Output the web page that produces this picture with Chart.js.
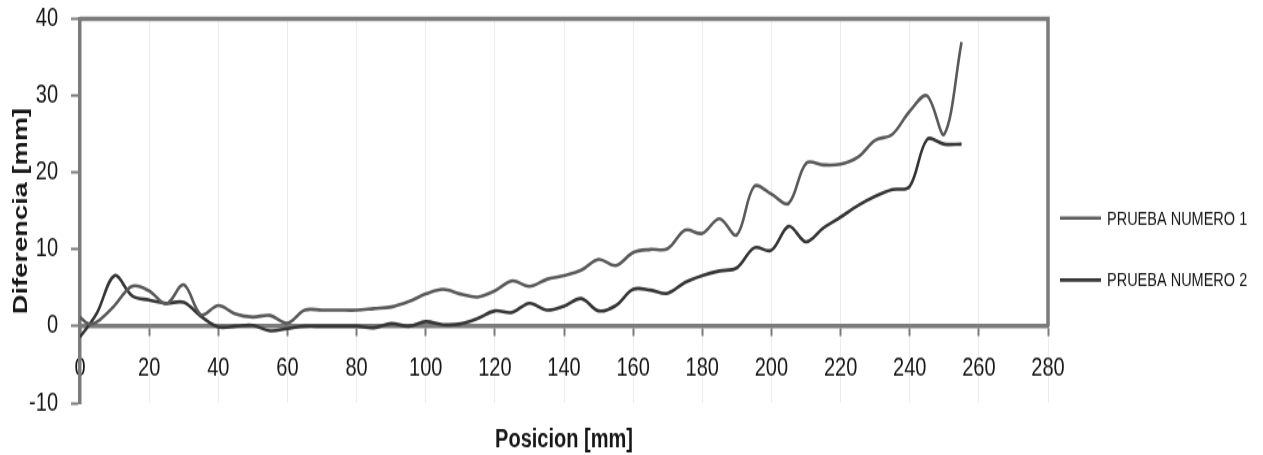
<!DOCTYPE html>
<html><head><meta charset="utf-8">
<style>html,body{margin:0;padding:0;background:#fff;width:1263px;height:455px}#c{display:block;width:1263px;height:455px}</style>
<script src="https://cdn.jsdelivr.net/npm/chart.js@4.4.1/dist/chart.umd.min.js"></script>
</head><body><canvas id="c" width="1263" height="350" style="width:1263px;height:455px"></canvas>
<script>
// Position along the piece [mm]
const positions = [0, 2.5, 5, 10, 15, 20, 25, 30, 35, 40, 45, 50, 55, 60, 65, 70, 75, 80, 85, 90, 95, 100,
  105, 110, 115, 120, 125, 130, 135, 140, 145, 150, 155, 160, 165, 170, 175, 180, 185, 190, 195, 200,
  205, 210, 215, 220, 225, 230, 235, 240, 245, 250, 255];
// Difference [mm] - test 1
const prueba1 = [1.2, 0.3, 0.6, 2.7, 5.2, 4.6, 2.9, 5.4, 1.5, 2.7, 1.6, 1.2, 1.4, 0.4, 2.1, 2.1, 2.1, 2.1, 2.3, 2.5, 3.2, 4.2,
  4.8, 4.2, 3.8, 4.6, 5.9, 5.2, 6.1, 6.6, 7.3, 8.7, 7.9, 9.6, 10.0, 10.1, 12.5, 12.1, 14.0, 11.9, 18.2, 17.2,
  16.0, 21.2, 21.0, 21.1, 22.0, 24.2, 25.0, 28.0, 30.0, 25.0, 37.0];
// Difference [mm] - test 2
const prueba2 = [-1.4, 0.1, 1.8, 6.6, 4.0, 3.4, 3.0, 3.1, 1.3, -0.1, 0.0, 0.1, -0.6, -0.3, 0.0, 0.0, 0.0, 0.0, -0.2, 0.35, 0.0, 0.6,
  0.2, 0.3, 1.0, 2.0, 1.8, 3.0, 2.1, 2.6, 3.6, 2.0, 2.7, 4.8, 4.7, 4.3, 5.7, 6.6, 7.2, 7.6, 10.2, 9.9,
  13.0, 11.0, 12.8, 14.2, 15.7, 16.9, 17.8, 18.2, 24.3, 23.7, 23.7];
const seriesNames = ['PRUEBA NUMERO 1', 'PRUEBA NUMERO 2'];
const xAxisTitle = 'Posicion [mm]';
const yAxisTitle = 'Diferencia [mm]';
const xRange = [0, 280], xStep = 20;
const yRange = [-10, 40], yStep = 10;

const AXIS = '#7b7b7b';
const TXT = '#161616';
const SANS = '"Liberation Sans", Arial, sans-serif';
const colors = ['#5a5a5a', '#363636'];

const toPts = (vals) => vals.map((v, i) => ({ x: positions[i], y: v }));

const framePlugin = {
  id: 'frame',
  beforeDatasetsDraw(chart) {
    const { ctx, chartArea, scales } = chart;
    const y0 = scales.y.getPixelForValue(0);
    ctx.save();
    ctx.strokeStyle = AXIS;
    ctx.lineWidth = 3.5;
    ctx.beginPath();
    ctx.moveTo(chartArea.left, chartArea.top);
    ctx.lineTo(chartArea.right, chartArea.top);
    ctx.lineTo(chartArea.right, y0);
    ctx.stroke();
    ctx.restore();
  },
  afterDraw(chart) {
    const { ctx } = chart;
    ctx.save();
    ctx.font = '14.5px ' + SANS;
    ctx.textBaseline = 'middle';
    ctx.fillStyle = TXT;
    const ys = [167.7, 215.4];
    chart.data.datasets.forEach((ds, i) => {
      ctx.strokeStyle = ds.borderColor;
      ctx.lineWidth = 2.6;
      ctx.beginPath();
      ctx.moveTo(1060, ys[i]);
      ctx.lineTo(1101, ys[i]);
      ctx.stroke();
      ctx.fillText(ds.label, 1107, ys[i] + 1);
    });
    ctx.restore();
  }
};

new Chart(document.getElementById('c'), {
  type: 'line',
  data: {
    datasets: [
      { label: seriesNames[0], data: toPts(prueba1), borderColor: colors[0], borderWidth: 2.6, pointRadius: 0, tension: 0.35, fill: false },
      { label: seriesNames[1], data: toPts(prueba2), borderColor: colors[1], borderWidth: 2.6, pointRadius: 0, tension: 0.35, fill: false }
    ]
  },
  options: {
    responsive: false,
    animation: false,
    devicePixelRatio: 1,
    layout: { padding: { left: 0, right: 215, top: 14.6, bottom: 0 } },
    plugins: { legend: { display: false }, tooltip: { enabled: false } },
    scales: {
      x: {
        type: 'linear',
        position: { y: 0 },
        min: xRange[0], max: xRange[1],
        ticks: { stepSize: xStep, color: TXT, font: { family: SANS, size: 20 }, padding: 15, maxRotation: 0 },
        grid: { color: 'rgba(0,0,0,0.07)', lineWidth: 1, drawTicks: true, tickLength: 6, tickColor: AXIS, tickWidth: 2 },
        border: { display: true, color: AXIS, width: 3.5 }
      },
      x2: {
        type: 'linear',
        position: 'bottom',
        min: xRange[0], max: xRange[1],
        ticks: { display: false },
        grid: { display: false },
        border: { display: false },
        title: { display: true, text: xAxisTitle, color: TXT, font: { family: SANS, size: 20, weight: 'bold' }, padding: { top: 0, bottom: 0 } },
        afterFit(s) { s.height = 40; }
      },
      y: {
        type: 'linear',
        position: 'left',
        min: yRange[0], max: yRange[1],
        ticks: { stepSize: yStep, color: TXT, font: { family: SANS, size: 20 }, padding: 2 },
        grid: { drawOnChartArea: false, drawTicks: true, tickLength: 20, tickColor: AXIS, tickWidth: 2,
                tickBorderDash: [0, 11, 9, 100], tickBorderDashOffset: 0 },
        border: { display: true, color: AXIS, width: 3.5 },
        title: { display: true, text: yAxisTitle, color: TXT, font: { family: SANS, size: 21, weight: 'bold' }, padding: { top: 9, bottom: 0 } },
        afterFit(s) { s.width = 80; }
      }
    }
  },
  plugins: [framePlugin]
});
</script></body></html>
